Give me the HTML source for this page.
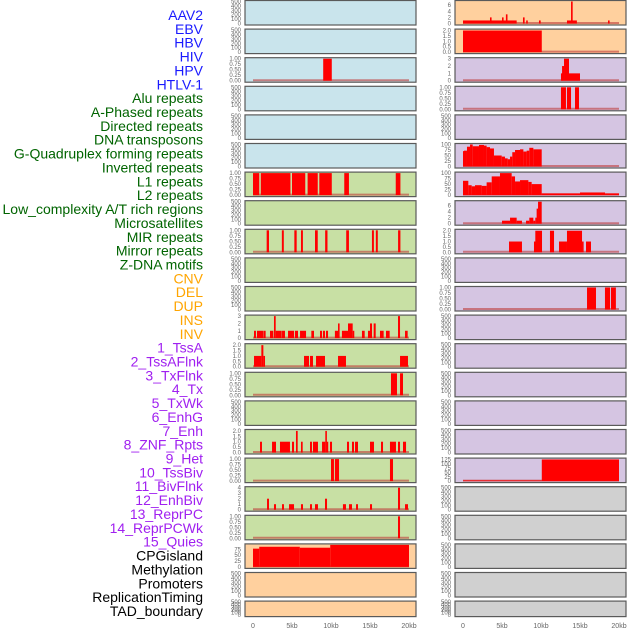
<!DOCTYPE html>
<html><head><meta charset="utf-8"><style>
html,body{margin:0;padding:0;background:#fff;}
svg text{font-family:"Liberation Sans",sans-serif;}
</style></head><body>
<svg id="chart" width="630" height="630" viewBox="0 0 630 630" xmlns="http://www.w3.org/2000/svg"></svg>
<script>
// ---- data: segments [startKb, endKb, value] ----
const hbv = [[9.0,10.1,1]];
const alu = [[0,0.8,1],[1.0,4.8,1],[5.0,6.7,1],[7.0,8.3,1],[8.5,10.1,1],[11.7,12.3,1],[18.3,18.9,1]];
const dnaTransposons = [[1.75,2.05,1],[3.7,3.95,1],[5.3,5.6,1],[6.15,6.4,1],[7.95,8.3,1],[9.25,9.55,1],[11.95,12.3,1],[15.25,15.5,1],[15.75,16,1],[18.6,18.9,1]];
const l1 = [[0.13,0.38,1],[0.51,1.33,1],[1.37,1.62,1],[2.18,2.61,1],[2.69,2.91,3],[2.91,3.68,1],[3.72,4.1,1],[4.49,5.26,1],[5.38,5.77,1],[6.03,6.8,1],[7.48,7.82,1],[8.59,8.85,1],[8.97,9.23,1],[9.36,9.62,1],[10.5,10.9,1],[10.9,11.03,2],[11.4,12.18,1],[12.18,12.78,2],[12.78,12.95,1],[13.97,14.32,1],[14.74,15.0,1],[15.0,15.26,2],[15.47,15.73,2],[16.28,16.75,1],[17.05,17.52,1],[18.59,18.85,3],[19.49,19.83,1]];
const l2 = [[0.13,1.07,1],[1.07,1.33,2],[1.33,1.54,1],[6.54,7.18,1],[7.31,7.69,1],[8.08,9.23,1],[10.9,11.92,1],[18.85,19.87,1]];
const lowComplexity = [[17.69,18.46,1],[18.85,19.23,1]];
const mir = [[0.9,1.15,1],[2.44,2.95,1],[3.46,4.74,1],[5.0,5.26,1],[5.51,5.73,2],[6.15,6.37,1],[7.31,7.56,1],[7.69,8.33,1],[8.85,9.27,1],[9.27,9.44,2],[9.44,9.62,1],[9.87,10.13,1],[12.05,12.31,1],[12.69,12.95,1],[13.08,13.46,1],[15.0,15.51,1],[16.41,16.67,1],[17.56,18.33,1],[18.59,18.85,1],[19.23,19.62,1]];
const mirror = [[10.0,10.38,1],[10.5,11.03,1],[17.56,17.95,1]];
const zdna = [[1.8,2.05,2],[2.69,2.95,1],[3.72,3.97,1],[4.62,5.26,1],[6.15,6.41,1],[7.31,7.56,1],[7.95,8.33,1],[9.23,9.49,2],[11.53,11.92,1],[12.31,12.69,1],[13.21,13.46,1],[15.0,15.26,1],[18.59,18.85,4],[19.49,19.87,1]];
const extraRepeat = [[18.59,18.85,1]];
const cnv = [[0,0.8,78],[0.8,6.0,86],[6.0,9.9,82],[9.9,20,94]];
const ins = [[0,6.88,1],[3.46,3.59,2],[5.0,5.2,2],[5.5,5.7,3],[7.69,7.9,2],[8.1,8.3,1],[9.74,9.96,1],[13.33,14.6,1],[13.85,14.06,7.2],[18.59,18.8,1]];
const inv = [[0,10.1,2]];
const tssA = [[12.56,12.7,1],[12.7,12.95,2],[12.95,13.59,3],[13.59,15.0,1]];
const tssAFlnk = [[12.56,13.2,1],[13.33,13.85,1],[14.36,14.87,1]];
const tx = [[0,0.13,70],[0.13,0.51,72],[0.51,0.9,90],[0.9,1.24,100],[1.24,2.05,92],[2.05,2.69,98],[2.69,3.03,95],[3.03,3.46,88],[3.46,3.97,82],[3.97,4.96,50],[4.96,5.38,45],[5.38,5.73,37],[5.73,6.03,33],[6.03,6.32,45],[6.32,6.67,65],[6.67,7.31,75],[7.31,7.74,78],[7.74,8.16,68],[8.16,8.5,72],[8.5,9.02,85],[9.02,10.09,78]];
const txWk = [[0,0.68,65],[0.68,1.11,45],[1.11,1.54,40],[1.54,2.39,45],[2.39,3.03,42],[3.03,3.68,58],[3.68,4.74,85],[4.74,6.24,100],[6.24,6.67,85],[6.67,7.31,62],[7.31,8.38,68],[8.38,8.8,60],[8.8,10.09,50],[10.09,15.0,8],[15.0,18.21,12],[18.21,20,8]];
const enhG = [[5.0,6.03,1],[6.03,6.88,2],[6.88,7.56,1],[8.08,8.5,1],[8.5,9.02,2],[9.02,9.27,1],[9.27,9.44,2],[9.44,9.62,5],[9.62,10.09,7.3]];
const enh = [[5.9,7.56,1],[9.1,9.27,1],[9.27,10.13,2],[11.15,11.67,2],[12.31,13.33,1],[13.33,15.26,2],[15.26,15.38,1],[15.77,16.41,1]];
const het = [[15.9,17.05,1],[18.2,18.85,1],[18.97,19.6,1]];
const quies = [[0,10.1,4],[10.1,20,125]];
const none = [];
const xTicks = [0,5,10,15,20];
const xTickLabels = ["0","5kb","10kb","15kb","20kb"];
const emptyTicks = ["0","100","200","300","400","500"];

const BLUE="#1a1aff",GREEN="#006400",ORANGE="#ffa500",PURPLE="#a020f0",BLACK="#000";
const labels = [
 ["AAV2",BLUE],["EBV",BLUE],["HBV",BLUE],["HIV",BLUE],["HPV",BLUE],["HTLV-1",BLUE],
 ["Alu repeats",GREEN],["A-Phased repeats",GREEN],["Directed repeats",GREEN],["DNA transposons",GREEN],
 ["G-Quadruplex forming repeats",GREEN],["Inverted repeats",GREEN],["L1 repeats",GREEN],["L2 repeats",GREEN],
 ["Low_complexity A/T rich regions",GREEN],["Microsatellites",GREEN],["MIR repeats",GREEN],["Mirror repeats",GREEN],
 ["Z-DNA motifs",GREEN],["CNV",ORANGE],["DEL",ORANGE],["DUP",ORANGE],["INS",ORANGE],["INV",ORANGE],
 ["1_TssA",PURPLE],["2_TssAFlnk",PURPLE],["3_TxFlnk",PURPLE],["4_Tx",PURPLE],["5_TxWk",PURPLE],["6_EnhG",PURPLE],
 ["7_Enh",PURPLE],["8_ZNF_Rpts",PURPLE],["9_Het",PURPLE],["10_TssBiv",PURPLE],["11_BivFlnk",PURPLE],["12_EnhBiv",PURPLE],
 ["13_ReprPC",PURPLE],["14_ReprPCWk",PURPLE],["15_Quies",PURPLE],
 ["CPGisland",BLACK],["Methylation",BLACK],["Promoters",BLACK],["ReplicationTiming",BLACK],["TAD_boundary",BLACK]
];
const BG={v:"#c9e4ec",r:"#c8e0a4",s:"#ffd09e",c:"#d5c5e2",o:"#d0d0d0"};
const T1=["0.00","0.25","0.50","0.75","1.00"], T2=["0.0","0.5","1.0","1.5","2.0"];
// panels in grid order: [bg, data, ymax, ticks]
const panels = [
 ["v",none],["v",none],["v",hbv,1,T1],["v",none],["v",none],["v",none],
 ["r",alu,1,T1],["r",none],["r",dnaTransposons,1,T1],["r",none],["r",none],
 ["r",l1,3,["0","1","2","3"]],["r",l2,2.04,T2],["r",lowComplexity,1,T1],["r",none],
 ["r",mir,2.04,T2],["r",mirror,1,T1],["r",zdna,4,["0","1","2","3","4"]],["r",extraRepeat,1,T1],
 ["s",cnv,94,["0","25","50","75"]],["s",none],["s",none],
 ["s",ins,7.2,["0","2","4","6"]],["s",inv,2.04,T2],
 ["c",tssA,3,["0","1","2","3"]],["c",tssAFlnk,1,T1],["c",none],
 ["c",tx,100,["0","25","50","75","100"]],["c",txWk,100,["0","25","50","75","100"]],
 ["c",enhG,7.3,["0","2","4","6"]],["c",enh,2.04,T2],["c",none],["c",het,1,T1],
 ["c",none],["c",none],["c",none],["c",none],["c",none],
 ["c",quies,127,["0","25","50","75","100","125"]],
 ["o",none],["o",none],["o",none],["o",none],["o",none]
];

const svg=document.getElementById('chart');
const NS="http://www.w3.org/2000/svg";
function mk(tag,attrs,parent){const e=document.createElementNS(NS,tag);for(const k in attrs)e.setAttribute(k,attrs[k]);(parent||svg).appendChild(e);return e;}
const cols=[{left:245,right:416,x0:253,x20:409},{left:455,right:626,x0:463,x20:619}];
function xScale(c,kb){return c.x0+(c.x20-c.x0)*kb/20;}
function rowTop(i){return 0.5+28.6*i;}
function rowH(i){return i===21?15.5:24.5;}

labels.forEach((t,i)=>{
  const tx=mk('text',{x:203,y:20+i*13.86,'text-anchor':'end','font-size':14,fill:t[1]});
  tx.textContent=t[0];
  
  
});

panels.forEach((p,idx)=>{
  const col=cols[idx<22?0:1], row=idx%22;
  const top=rowTop(row), h=rowH(row), bot=top+h;
  const g=mk('g',{});
  
  
  mk('rect',{x:col.left,y:top,width:col.right-col.left,height:h,fill:BG[p[0]],stroke:'#5a5a5a','stroke-width':1.2},g);
  const data=p[1];
  const empty=data.length===0;
  const ymax=empty?500:p[2];
  const ticks=empty?emptyTicks:p[3];
  const plotTop=top+1, plotBot=bot-1.5;
  function yScale(v){return plotBot-(plotBot-plotTop)*v/ymax;}
  ticks.forEach(lbl=>{
    const v=parseFloat(lbl);
    const tt=mk('text',{x:col.left-4,y:yScale(v)+2,'text-anchor':'end','font-size':6,fill:'#666'},g);
    tt.textContent=lbl;
    
    
  });
  if(!empty){
    const base=mk('line',{x1:xScale(col,0),x2:xScale(col,20),y1:plotBot-0.5,y2:plotBot-0.5,stroke:'rgba(190,60,60,0.6)','stroke-width':2},g);
    
    
    data.forEach(d=>{
      const x1=xScale(col,d[0]), x2=xScale(col,d[1]);
      const w=Math.max(1.6,x2-x1);
      const r=mk('rect',{x:x1,y:yScale(d[2]),width:w,height:plotBot-yScale(d[2]),fill:'#ff0000'},g);
      
      
    });
  }
});

cols.forEach((c)=>{
  xTicks.forEach((v,k)=>{
    const tt=mk('text',{x:xScale(c,v),y:628,'text-anchor':'middle','font-size':7,fill:'#666'});
    tt.textContent=xTickLabels[k];
    
    
  });
});
</script>
</body></html>
